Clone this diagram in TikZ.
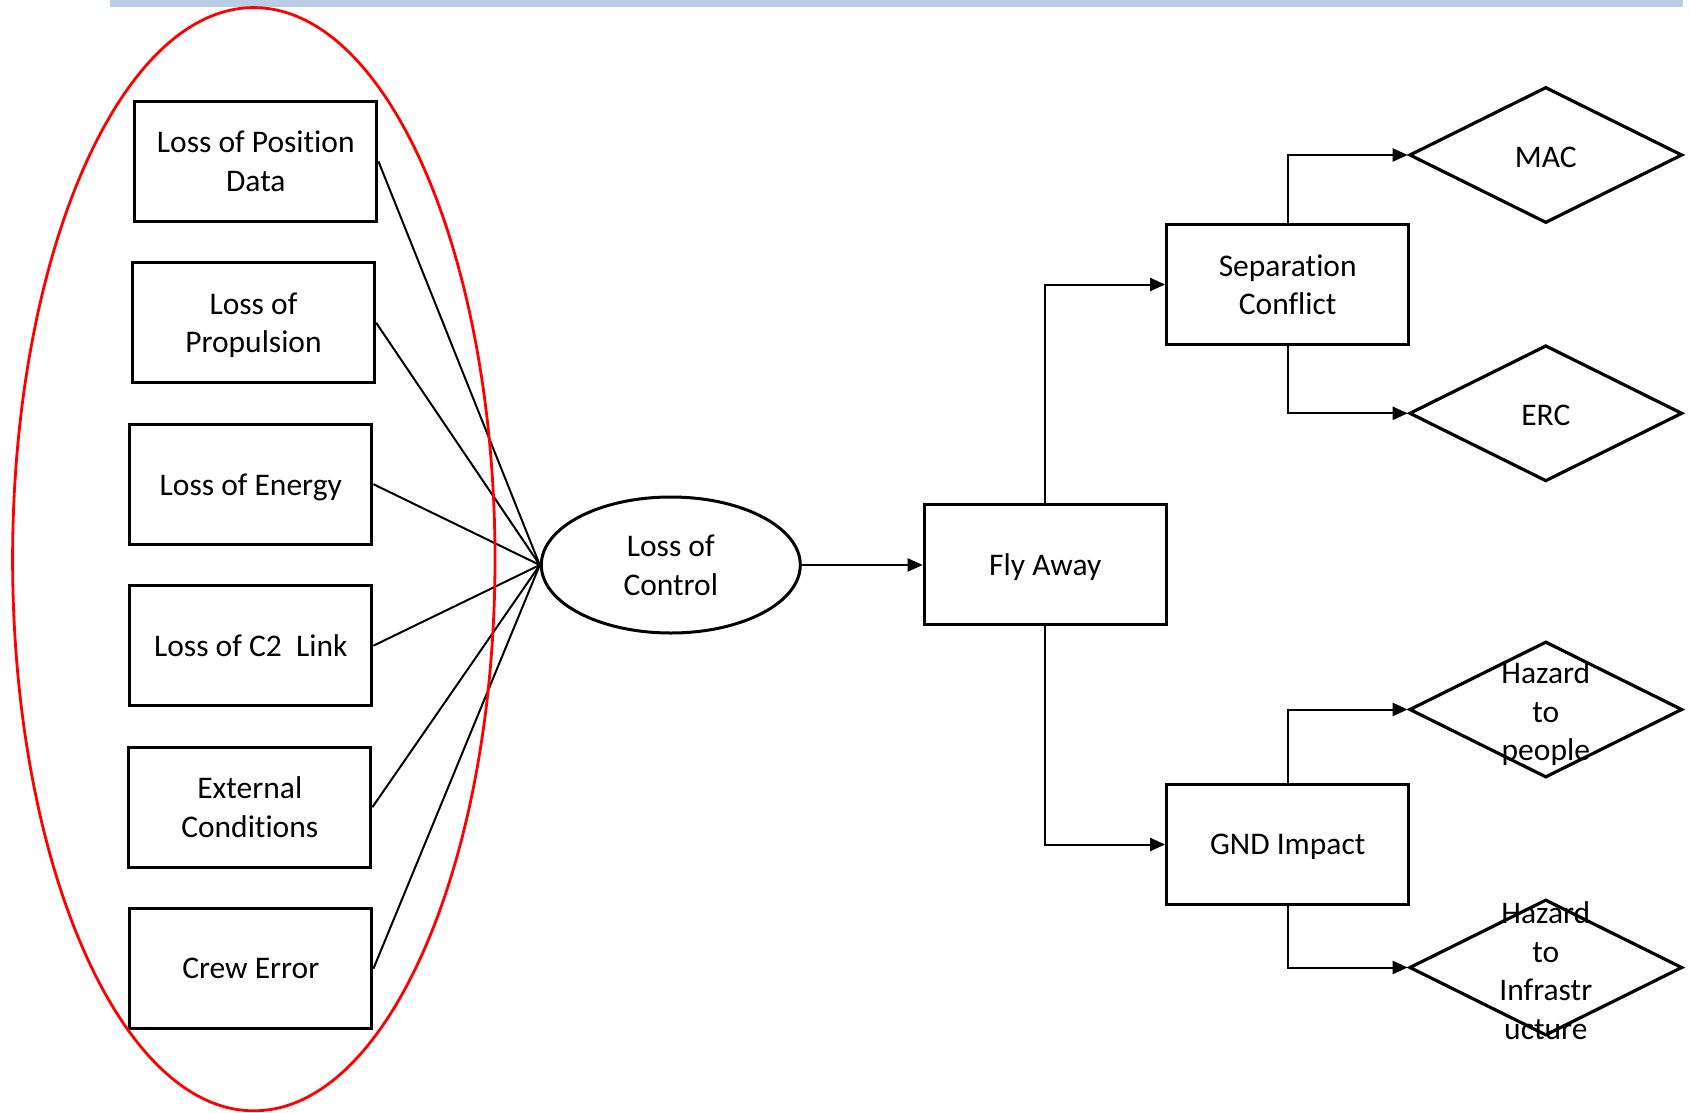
\documentclass[tikz,border=0pt]{standalone}
\usepackage{fontspec}
\setmainfont{Carlito}[Ligatures={NoCommon}]
\usetikzlibrary{shapes.geometric,arrows.meta}
\definecolor{barblue}{HTML}{B9CDE5}
\begin{document}
\begin{tikzpicture}[x=1pt,y=-1pt,
  every node/.style={font=\fontsize{31.5}{38.5}\selectfont},
  box/.style={draw,line width=3.2pt,minimum width=242pt,minimum height=120pt,align=center,inner sep=0pt,text depth=0pt},
  hub/.style={draw,ellipse,line width=3pt,minimum width=259pt,minimum height=136pt,inner sep=0pt,align=center,text depth=0pt},
  outcome/.style={draw,diamond,line width=3.2pt,minimum width=273pt,minimum height=136pt,inner sep=0pt},
  outtext/.style={align=center,inner sep=0pt},
  feed/.style={line width=2pt},
  flow/.style={line width=2pt,-{Triangle[length=15pt,width=13pt]}},
  group/.style={draw=red,line width=2.8pt}]
\useasboundingbox (0,0) rectangle (1691,1113);

% title bar along the top edge
\fill[barblue] (110,0) rectangle (1683,7.5);

% causes
\node[box] (pos)  at (255.8,161.2) {Loss of Position\\Data};
\node[box] (prop) at (253.5,322.7) {Loss of\\Propulsion};
\node[box] (nrg)  at (250.8,484.2) {Loss of Energy};
\node[box] (ctwo) at (250.8,645.7) {Loss of C2\ \ Link};
\node[box] (ext)  at (249.8,807.2) {External\\Conditions};
\node[box] (crew) at (250.8,968.7) {Crew Error};

% central event
\node[hub] (loc) at (670.8,565) {Loss of\\Control};

% consequences
\node[box] (fly) at (1045.3,564.5) {Fly Away};
\node[box] (sep) at (1287.7,284.5) {Separation\\Conflict};
\node[box] (gnd) at (1287.7,844.5) {GND Impact};

\node[outcome] (mac) at (1545.8,155) {};
\node[outcome] (erc) at (1545.8,413.3) {};
\node[outcome] (hp)  at (1545.8,709.5) {};
\node[outcome] (hi)  at (1545.8,967.5) {};
\node[outtext] (mact) at (1545.8,157) {MAC};
\node[outtext] (erct) at (1545.8,415.3) {ERC};
\node[outtext] (hpt)  at (1545.8,713.7) {Hazard\\to\\people};
\node[outtext] (hit)  at (1545.8,970.5) {Hazard\\to\\Infrastr\\ucture};

% cause lines into the central event
\foreach \c in {pos,prop,nrg,ctwo,ext,crew}
  \draw[feed] (\c.east) -- (loc.west);

% flow to outcomes
\draw[flow] (loc.east) -- (loc.east -| fly.west);
\draw[flow] (fly.north) |- (sep.west);
\draw[flow] (fly.south) |- (gnd.west);
\draw[flow] (sep.north) |- (mac.west);
\draw[flow] (sep.south) |- (erc.west);
\draw[flow] (gnd.north) |- (hp.west);
\draw[flow] (gnd.south) |- (hi.west);

% grouping of the causes
\draw[group] (253.8,559.2) ellipse [x radius=241.2pt, y radius=551.6pt];
\end{tikzpicture}
\end{document}
